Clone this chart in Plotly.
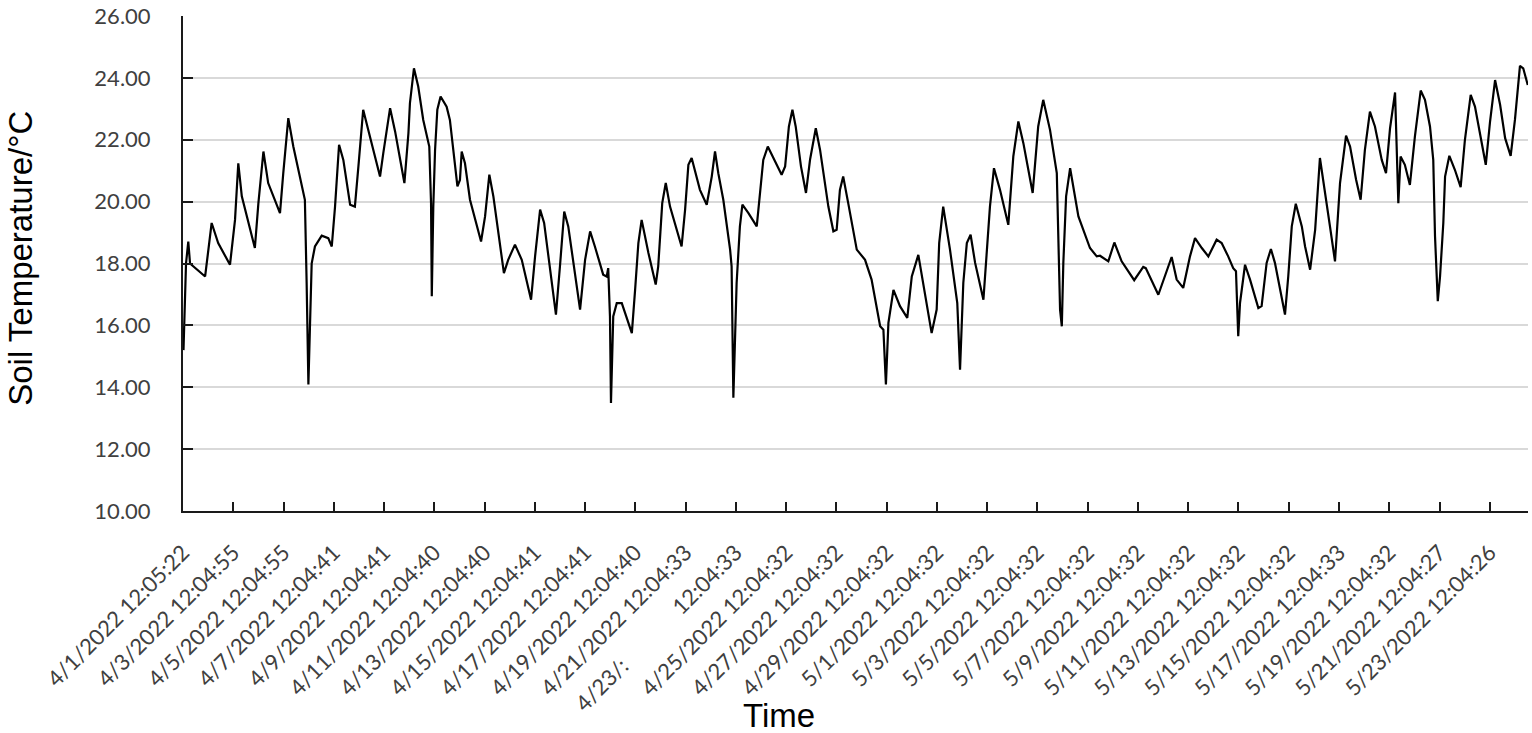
import plotly.graph_objects as go

# time since 4/1/2022 12:05:22, in days
days = [0.02, 0.12, 0.21, 0.28, 0.88, 1.14, 1.40, 1.87, 2.07, 2.20, 2.34, 2.86, 3.00, 3.20, 3.39,
        3.86, 3.99, 4.19, 4.39, 4.85, 4.92, 4.99, 5.12, 5.25, 5.52, 5.78, 5.92, 6.05, 6.21, 6.38,
        6.65, 6.84, 6.98, 7.17, 7.37, 7.84, 7.97, 8.24, 8.44, 8.81, 8.97, 9.03, 9.19, 9.36, 9.56,
        9.80, 9.87, 9.90, 9.96, 10.03, 10.12, 10.25, 10.49, 10.62, 10.92, 11.02, 11.09, 11.22, 11.42,
        11.86, 12.02, 12.19, 12.35, 12.77, 12.94, 13.21, 13.48, 13.85, 14.01, 14.21, 14.37, 14.84,
        15.00, 15.17, 15.33, 15.80, 16.00, 16.20, 16.39, 16.72, 16.86, 16.92, 16.99, 17.03, 17.12,
        17.26, 17.46, 17.86, 17.99, 18.12, 18.25, 18.52, 18.81, 18.91, 19.07, 19.21, 19.38, 19.84,
        19.98, 20.11, 20.24, 20.57, 20.84, 21.04, 21.17, 21.30, 21.50, 21.77, 21.83, 21.90, 22.03,
        22.16, 22.26, 22.50, 22.83, 22.96, 23.09, 23.27, 23.62, 23.82, 23.96, 24.11, 24.25, 24.38,
        24.59, 24.79, 24.95, 25.18, 25.35, 25.68, 25.88, 26.01, 26.14, 26.27, 26.47, 26.81, 27.14,
        27.40, 27.74, 27.87, 27.97, 28.07, 28.27, 28.53, 28.82, 29.00, 29.26, 29.53, 29.79, 29.99,
        30.09, 30.25, 30.52, 30.81, 30.92, 31.05, 31.19, 31.34, 31.52, 31.85, 31.98, 32.11, 32.27,
        32.51, 32.84, 33.04, 33.24, 33.44, 33.81, 34.03, 34.23, 34.50, 34.77, 34.90, 34.97, 35.03,
        35.14, 35.30, 35.63, 36.09, 36.36, 36.49, 36.82, 37.06, 37.35, 37.85, 38.21, 38.31, 38.81,
        39.08, 39.34, 39.54, 39.80, 40.07, 40.27, 40.54, 40.80, 41.13, 41.33, 41.59, 41.79, 41.90,
        41.99, 42.06, 42.26, 42.46, 42.79, 42.92, 43.12, 43.29, 43.45, 43.85, 43.98, 44.12, 44.28,
        44.52, 44.65, 44.85, 45.05, 45.24, 45.44, 45.64, 45.84, 46.04, 46.28, 46.44, 46.68, 46.86,
        47.03, 47.23, 47.43, 47.70, 47.87, 48.03, 48.23, 48.36, 48.45, 48.62, 48.82, 49.02, 49.25,
        49.42, 49.62, 49.75, 49.82, 49.93, 50.02, 50.15, 50.22, 50.39, 50.61, 50.84, 51.01, 51.24,
        51.41, 51.61, 51.84, 52.01, 52.21, 52.41, 52.61, 52.83, 53.00, 53.20, 53.33, 53.51]

soil_temp = [15.2, 18.0, 18.71, 18.0, 17.58, 19.31, 18.66, 17.96, 19.41, 21.24, 20.17, 18.50, 19.95, 21.62, 20.6,
             19.63, 20.92, 22.70, 21.78, 20.06, 17.37, 14.09, 18.0, 18.55, 18.9, 18.82, 18.55, 19.84, 21.84, 21.35,
             19.9, 19.84, 21.14, 22.97, 22.32, 20.81, 21.57, 23.02, 22.27, 20.6, 22.21, 23.18, 24.31, 23.72, 22.64,
             21.78, 19.95, 16.94, 19.84, 21.67, 22.97, 23.4, 23.07, 22.64, 20.49, 20.7, 21.62, 21.24, 20.06,
             18.71, 19.52, 20.87, 20.17, 17.69, 18.12, 18.61, 18.12, 16.83, 18.23, 19.74, 19.31, 16.35,
             17.91, 19.68, 19.2, 16.51, 18.12, 19.04, 18.55, 17.64, 17.58, 17.85, 16.29, 13.49, 16.29,
             16.72, 16.72, 15.75, 17.15, 18.66, 19.41, 18.34, 17.32, 17.91, 19.95, 20.6, 19.84, 18.55,
             19.74, 21.19, 21.41, 20.38, 19.9, 20.81, 21.62, 20.92, 20.06, 18.45, 17.91, 13.66, 17.37,
             19.2, 19.9, 19.63, 19.2, 20.17, 21.35, 21.78, 21.19, 20.87, 21.14, 22.43, 22.97, 22.43,
             21.14, 20.28, 21.35, 22.37, 21.67, 19.84, 19.04, 19.09, 20.38, 20.81, 19.95, 18.45, 18.12,
             17.48, 15.97, 15.86, 14.09, 16.08, 17.15, 16.62, 16.24, 17.58, 18.28, 16.94, 15.75, 16.51,
             18.66, 19.84, 18.45, 16.72, 14.57, 17.37, 18.66, 18.93, 18.02, 16.83, 18.45, 19.84, 21.08,
             20.38, 19.25, 21.46, 22.59, 21.89, 20.28, 22.43, 23.29, 22.32, 20.92, 16.51, 15.97, 18.02,
             20.17, 21.08, 19.52, 18.5, 18.23, 18.25, 18.07, 18.68, 18.07, 17.46, 17.89, 17.85, 16.99,
             17.58, 18.21, 17.48, 17.21, 18.23, 18.82, 18.5, 18.23, 18.77, 18.66, 18.23, 17.85, 17.75,
             15.65, 16.72, 17.96, 17.48, 16.56, 16.62, 18.02, 18.47, 18.02, 16.35, 17.58, 19.2, 19.93,
             19.2, 18.55, 17.8, 19.09, 21.41, 20.38, 19.2, 18.07, 20.6, 22.13, 21.78, 20.71, 20.06,
             21.67, 22.91, 22.43, 21.35, 20.92, 22.37, 23.53, 19.95, 21.46, 21.19, 20.54, 22.11, 23.59,
             23.29, 22.43, 21.35, 18.88, 16.78, 17.58, 19.31, 20.81, 21.48, 21.03, 20.47, 22.0, 23.45,
             23.07, 22.21, 21.19, 22.59, 23.93, 23.13, 22.05, 21.48, 22.64, 24.39, 24.31, 23.77]

tick_days = list(range(0, 53, 2))
tick_labels = ["4/1/2022 12:05:22", "4/3/2022 12:04:55", "4/5/2022 12:04:55", "4/7/2022 12:04:41",
               "4/9/2022 12:04:41", "4/11/2022 12:04:40", "4/13/2022 12:04:40", "4/15/2022 12:04:41",
               "4/17/2022 12:04:41", "4/19/2022 12:04:40", "4/21/2022 12:04:33",
               "4/23/:" + "\u00a0" * 13 + "12:04:33",
               "4/25/2022 12:04:32", "4/27/2022 12:04:32", "4/29/2022 12:04:32", "5/1/2022 12:04:32",
               "5/3/2022 12:04:32", "5/5/2022 12:04:32", "5/7/2022 12:04:32", "5/9/2022 12:04:32",
               "5/11/2022 12:04:32", "5/13/2022 12:04:32", "5/15/2022 12:04:32", "5/17/2022 12:04:33",
               "5/19/2022 12:04:32", "5/21/2022 12:04:27", "5/23/2022 12:04:26"]

fig = go.Figure()
fig.add_trace(go.Scatter(x=days, y=soil_temp, mode="lines",
                         line=dict(color="#000000", width=2.2), showlegend=False))

tick_font = dict(family="Lato, Noto Sans, sans-serif", size=22, color="#404040")
title_font = dict(family="Liberation Sans, Arial, sans-serif", size=33, color="#000000")

fig.update_layout(
    width=1532, height=733,
    margin=dict(l=183, r=4, t=16, b=222),
    paper_bgcolor="white", plot_bgcolor="white",
    xaxis=dict(range=[0, 53.52], tickmode="array", tickvals=tick_days, ticktext=tick_labels,
               tickangle=-45, tickfont=tick_font, showgrid=False, zeroline=False,
               showline=True, linecolor="#1a1a1a", linewidth=2,
               ticks="inside", ticklen=9, tickwidth=1.5, tickcolor="#1a1a1a",
               ticklabelstandoff=18, automargin=False),
    yaxis=dict(range=[10, 26], dtick=2, tick0=10, tickformat=".2f", tickfont=tick_font,
               showgrid=True, gridcolor="#d9d9d9", gridwidth=1.5, zeroline=False,
               showline=True, linecolor="#1a1a1a", linewidth=2,
               ticks="inside", ticklen=10, tickwidth=1.5, tickcolor="#1a1a1a",
               ticklabelstandoff=26, automargin=False),
    annotations=[
        dict(text="Soil Temperature/°C", xref="paper", yref="paper", x=-0.121, y=0.51,
             xanchor="center", yanchor="middle", textangle=-90, showarrow=False,
             font=title_font),
        dict(text="Time", x=0.443, y=-0.414, xref="paper", yref="paper",
             xanchor="center", yanchor="middle", showarrow=False,
             font=title_font),
    ],
)

fig.write_html("out.html", config={"displayModeBar": False},
               post_script="document.body.style.margin='0';document.body.style.overflow='hidden';")
